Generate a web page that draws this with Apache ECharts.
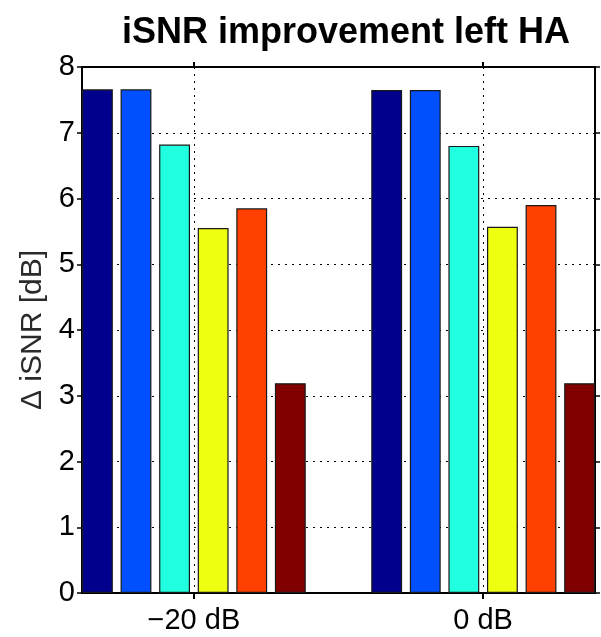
<!DOCTYPE html>
<html>
<head>
<meta charset="utf-8">
<script src="https://cdn.jsdelivr.net/npm/echarts@6/dist/echarts.min.js"></script>
<style>
html,body{margin:0;padding:0;background:#fff;}
#chart{width:601px;height:637px;}
</style>
</head>
<body>
<div id="chart"></div>
<script>
// ---- data ----
const categories = ['\u221220 dB', '0 dB'];
const categoryPositions = [1, 2];
const seriesNames = ['Bar 1', 'Bar 2', 'Bar 3', 'Bar 4', 'Bar 5', 'Bar 6'];
const bar1 = [7.66, 7.65];
const bar2 = [7.66, 7.65];
const bar3 = [6.82, 6.80];
const bar4 = [5.55, 5.57];
const bar5 = [5.85, 5.90];
const bar6 = [3.19, 3.19];
const yTicks = [0, 1, 2, 3, 4, 5, 6, 7, 8];
const colors = ['#00008c', '#0050ff', '#20ffdf', '#efff10', '#ff4000', '#800000'];

const allBars = [bar1, bar2, bar3, bar4, bar5, bar6];
const FONT = '"Liberation Sans", Arial, sans-serif';
const xMin = 0.6133, xMax = 2.3867;

const dotted = { color: '#000', width: 1, type: [2, 5] };

const series = allBars.map((vals, i) => ({
  name: seriesNames[i],
  type: 'bar',
  xAxisIndex: 0,
  yAxisIndex: 0,
  data: vals.map((v, j) => [categoryPositions[j], v]),
  barWidth: '10.67%',
  barGap: '25%',
  itemStyle: { color: colors[i], borderColor: '#1a1a1a', borderWidth: 1.2 },
  animation: false
}));

const chart = echarts.init(document.getElementById('chart'));
chart.setOption({
  animation: false,
  backgroundColor: '#fff',
  title: {
    text: 'iSNR improvement left HA',
    left: 341,
    top: 10,
    textAlign: 'center',
    textStyle: { fontFamily: FONT, fontSize: 36, fontWeight: 'bold', color: '#000' }
  },
  grid: { left: 82, right: 6, top: 67, bottom: 44, show: false },
  xAxis: [
    {
      type: 'value', min: xMin, max: xMax, position: 'bottom',
      axisLine: { show: true, onZero: false, lineStyle: { color: '#000', width: 2 } },
      axisTick: { show: true, customValues: categoryPositions, length: 6, inside: false, lineStyle: { color: '#000', width: 2 } },
      axisLabel: {
        customValues: categoryPositions,
        formatter: (v) => categories[categoryPositions.indexOf(Math.round(v))] || '',
        fontFamily: FONT, fontSize: 29, color: '#000', margin: 13
      },
      splitLine: { show: true, lineStyle: dotted }
    },
    {
      type: 'value', min: xMin, max: xMax, position: 'top',
      axisLine: { show: true, onZero: false, lineStyle: { color: '#000', width: 2 } },
      axisTick: { show: true, customValues: categoryPositions, length: 5, inside: false, lineStyle: { color: '#000', width: 2 } },
      axisLabel: { show: false },
      splitLine: { show: false }
    }
  ],
  yAxis: [
    {
      type: 'value', min: 0, max: 8, interval: 1, position: 'left',
      name: '\u0394 iSNR [dB]', nameLocation: 'middle', nameRotate: 90, nameGap: 27,
      nameTextStyle: { fontFamily: FONT, fontSize: 30, color: '#2a2a2a' },
      axisLine: { show: true, onZero: false, lineStyle: { color: '#000', width: 2 } },
      axisTick: { show: true, length: 5, inside: false, lineStyle: { color: '#000', width: 1.5 } },
      axisLabel: { fontFamily: FONT, fontSize: 29, color: '#000', margin: 7, formatter: (v) => (yTicks.indexOf(v) >= 0 ? String(v) : '') },
      splitLine: { show: true, lineStyle: dotted }
    },
    {
      type: 'value', min: 0, max: 8, interval: 1, position: 'right',
      axisLine: { show: true, onZero: false, lineStyle: { color: '#000', width: 2 } },
      axisTick: { show: true, length: 5, inside: false, lineStyle: { color: '#000', width: 1.5 } },
      axisLabel: { show: false },
      splitLine: { show: false }
    }
  ],
  series: series
});
</script>
</body>
</html>
